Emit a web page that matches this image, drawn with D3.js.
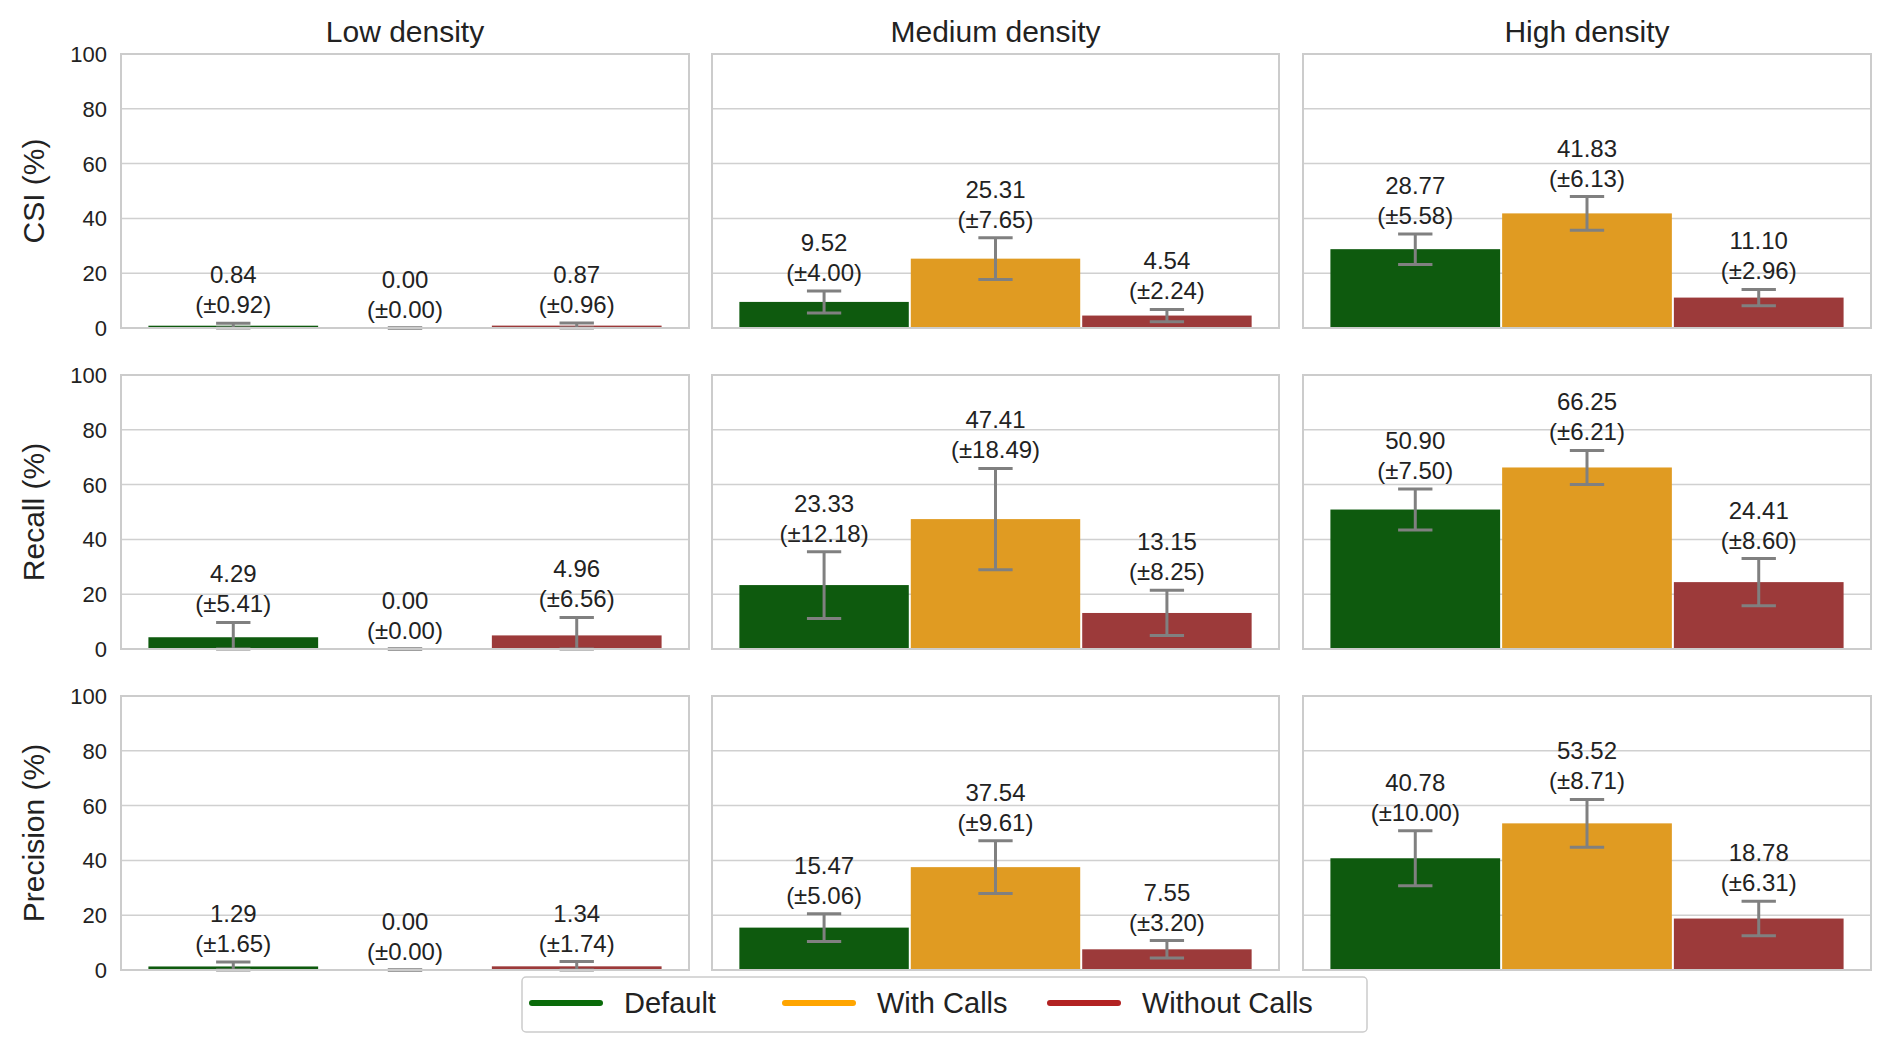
<!DOCTYPE html>
<html><head><meta charset="utf-8">
<script src="https://cdn.jsdelivr.net/npm/d3@7"></script>
<style>body{margin:0;background:#fff}text{font-family:"Liberation Sans",Arial,sans-serif;fill:#222}</style>
</head><body><svg id="c" width="1892" height="1052"></svg>
<script>
const densities=["Low density","Medium density","High density"];
const metrics=["CSI (%)","Recall (%)","Precision (%)"];
const series=["Default","With Calls","Without Calls"];
const barColors=["#0e5a0e","#e09b22","#9c3a3a"];
const legendColors=["#0a6b0a","#ffa500","#b22222"];
const yTicks=[0,20,40,60,80,100];
// means[metric][density][series]
const means=[
 [[0.84,0.00,0.87],[9.52,25.31,4.54],[28.77,41.83,11.10]],
 [[4.29,0.00,4.96],[23.33,47.41,13.15],[50.90,66.25,24.41]],
 [[1.29,0.00,1.34],[15.47,37.54,7.55],[40.78,53.52,18.78]]];
const errs=[
 [[0.92,0.00,0.96],[4.00,7.65,2.24],[5.58,6.13,2.96]],
 [[5.41,0.00,6.56],[12.18,18.49,8.25],[7.50,6.21,8.60]],
 [[1.65,0.00,1.74],[5.06,9.61,3.20],[10.00,8.71,6.31]]];

const svg=d3.select("#c");
const colX=[[121,689],[712,1279],[1303,1871]];
const rowY=[[54,328],[375,649],[696,970]];
const fmt=d3.format(".2f");
densities.forEach((d,ci)=>{
  svg.append("text").attr("x",(colX[ci][0]+colX[ci][1])/2).attr("y",42).attr("text-anchor","middle").attr("font-size",30).text(d);
});
metrics.forEach((m,ri)=>{
  const y=d3.scaleLinear().domain([0,100]).range([rowY[ri][1],rowY[ri][0]]);
  svg.append("text").attr("transform",`translate(44,${(rowY[ri][0]+rowY[ri][1])/2}) rotate(-90)`).attr("text-anchor","middle").attr("font-size",30).text(m);
  densities.forEach((d,ci)=>{
    const [x0,x1]=colX[ci];const w=x1-x0;
    const x=d3.scaleBand().domain(series).range([x0+w*0.0465,x1-w*0.0465]).paddingInner(0);
    const g=svg.append("g");
    g.selectAll(".grid").data(yTicks.slice(1,-1)).join("line").attr("x1",x0).attr("x2",x1).attr("y1",v=>y(v)).attr("y2",v=>y(v)).attr("stroke","#d0d0d0").attr("stroke-width",1.5);
    if(ci===0){
      g.selectAll(".tk").data(yTicks).join("text").attr("x",x0-14).attr("y",v=>y(v)+8).attr("text-anchor","end").attr("font-size",22).text(v=>v);
    }
    series.forEach((s,si)=>{
      const v=means[ri][ci][si],e=errs[ri][ci][si];
      const bx=x(s),bw=x.bandwidth(),cx=bx+bw/2;
      g.append("rect").attr("x",bx+1).attr("width",bw-2).attr("y",y(v)).attr("height",y(0)-y(v)).attr("fill",barColors[si]);
      const lo=Math.max(0,v-e),hi=v+e,cw=bw*0.2;
      g.append("line").attr("x1",cx).attr("x2",cx).attr("y1",y(lo)).attr("y2",y(hi)).attr("stroke","#808080").attr("stroke-width",3);
      [lo,hi].forEach(t=>g.append("line").attr("x1",cx-cw/2).attr("x2",cx+cw/2).attr("y1",y(t)).attr("y2",y(t)).attr("stroke","#808080").attr("stroke-width",3));
      const ty=y(hi)-10;
      g.append("text").attr("x",cx).attr("y",ty).attr("text-anchor","middle").attr("font-size",24).text(`(±${fmt(e)})`);
      g.append("text").attr("x",cx).attr("y",ty-30).attr("text-anchor","middle").attr("font-size",24).text(fmt(v));
    });
    g.append("rect").attr("x",x0).attr("y",rowY[ri][0]).attr("width",w).attr("height",rowY[ri][1]-rowY[ri][0]).attr("fill","none").attr("stroke","#cccccc").attr("stroke-width",2);
  });
});
// legend
const lg=svg.append("g");
lg.append("rect").attr("x",522).attr("y",977).attr("width",845).attr("height",55).attr("rx",4).attr("fill","#fff").attr("stroke","#cccccc").attr("stroke-width",1.5);
const lx=[532,785,1050];
series.forEach((s,i)=>{
  lg.append("line").attr("x1",lx[i]).attr("x2",lx[i]+68).attr("y1",1003).attr("y2",1003).attr("stroke",legendColors[i]).attr("stroke-width",6).attr("stroke-linecap","round");
  lg.append("text").attr("x",lx[i]+92).attr("y",1013).attr("font-size",29).text(s);
});
</script></body></html>
